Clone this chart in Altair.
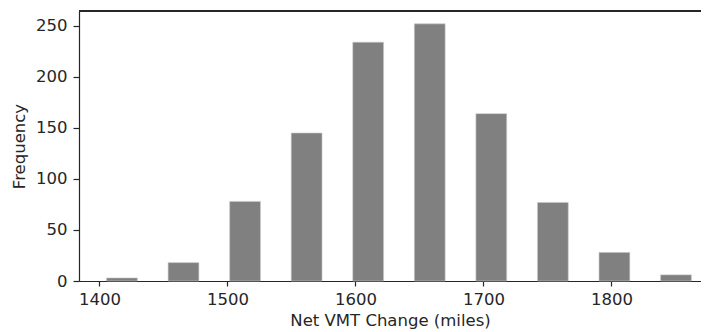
import altair as alt
import pandas as pd

# Histogram bin edges (miles) and counts
bin_edges = [1393.5, 1441.6, 1489.7, 1537.8, 1585.9, 1634.0, 1682.1,
             1730.2, 1778.3, 1826.4, 1874.5]
counts = [3, 18, 78, 145, 234, 252, 164, 77, 28, 6]
x_ticks = [1400, 1500, 1600, 1700, 1800]
y_ticks = [0, 50, 100, 150, 200, 250]

rwidth = 0.5
rows = []
for i, c in enumerate(counts):
    lo, hi = bin_edges[i], bin_edges[i + 1]
    mid = (lo + hi) / 2
    half = (hi - lo) * rwidth / 2
    rows.append({"x0": mid - half, "x1": mid + half, "count": c})
df = pd.DataFrame(rows)

W, H = 622, 270
font = "DejaVu Sans"
ink = "#262626"
fs = 16.5

bars = alt.Chart(df).mark_rect(color="#808080", stroke="#c8c8c8", strokeWidth=0.6).encode(
    x=alt.X("x0:Q",
            scale=alt.Scale(domain=[1384, 1870], nice=False, zero=False),
            axis=alt.Axis(values=x_ticks, title="Net VMT Change (miles)", grid=False,
                          tickSize=5, tickColor=ink, tickWidth=1.2,
                          domainColor=ink, domainWidth=1.2,
                          labelFont=font, labelFontSize=fs, labelColor=ink,
                          labelPadding=5, titleFont=font, titleFontSize=fs,
                          titleFontWeight="normal", titleColor=ink, titlePadding=5,
                          format="d")),
    x2="x1:Q",
    y=alt.Y("count:Q",
            scale=alt.Scale(domain=[0, 264.6], nice=False),
            axis=alt.Axis(values=y_ticks, title="Frequency", grid=False,
                          tickSize=6, tickColor=ink, tickWidth=1.2,
                          domainColor=ink, domainWidth=1.2,
                          labelFont=font, labelFontSize=fs, labelColor=ink,
                          labelPadding=6, titleFont=font, titleFontSize=fs,
                          titleFontWeight="normal", titleColor=ink, titlePadding=8)),
    y2=alt.value(H),
)

top = alt.Chart(df).mark_rule(color=ink, strokeWidth=1.2).encode(
    x=alt.value(0), x2=alt.value(W), y=alt.value(0)
)

chart = alt.layer(bars, top).properties(
    width=W, height=H,
    autosize=alt.AutoSizeParams(type="none"),
    padding={"left": 71, "top": 3, "right": 0, "bottom": 52},
).configure_view(stroke=None)

chart.save("out.html", embed_options={"renderer": "svg", "actions": False})
